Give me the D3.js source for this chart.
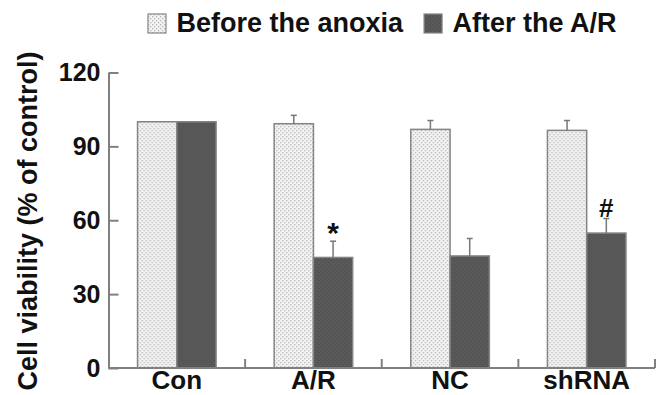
<!DOCTYPE html>
<html>
<head>
<meta charset="utf-8">
<script src="https://cdn.jsdelivr.net/npm/d3@7"></script>
<style>
    body { margin: 0; background: #fff; }
    svg { display: block; font-family: "Liberation Sans", Arial, sans-serif; font-weight: bold; }
</style>
</head>
<body>
<div id="container"></div>
<script>
    // Data
    let groups = ["Con", "A/R", "NC", "shRNA"];
    let seriesNames = ["Before the anoxia", "After the A/R"];
    let beforeValues = [100, 99.2, 96.9, 96.5];
    let beforeErrors = [0, 3.4, 3.6, 4.0];
    let afterValues = [100, 44.9, 45.5, 54.8];
    let afterErrors = [0, 6.6, 7.1, 5.9];
    let afterMarks = ["", "*", "", "#"];
    let yTicks = [0, 30, 60, 90, 120];

    let width = 661, height = 395;
    let margin = { top: 72.5, right: 6, bottom: 27, left: 108.5 };

    let svg = d3.select("#container")
        .append("svg")
        .attr("width", width)
        .attr("height", height);

    // Fill patterns
    let defs = svg.append("defs");
    let dots = defs.append("pattern")
        .attr("id", "dots")
        .attr("width", 4).attr("height", 4)
        .attr("patternUnits", "userSpaceOnUse");
    dots.append("rect").attr("width", 4).attr("height", 4).attr("fill", "#f4f4f4");
    dots.append("rect").attr("x", 0).attr("y", 0).attr("width", 1.3).attr("height", 1.3).attr("fill", "#b4b4b4");
    dots.append("rect").attr("x", 2).attr("y", 2).attr("width", 1.3).attr("height", 1.3).attr("fill", "#b4b4b4");

    let darkDots = defs.append("pattern")
        .attr("id", "darkdots")
        .attr("width", 4).attr("height", 4)
        .attr("patternUnits", "userSpaceOnUse");
    darkDots.append("rect").attr("width", 4).attr("height", 4).attr("fill", "#5a5a5a");
    darkDots.append("rect").attr("x", 0).attr("y", 0).attr("width", 1.3).attr("height", 1.3).attr("fill", "#4c4c4c");
    darkDots.append("rect").attr("x", 2).attr("y", 2).attr("width", 1.3).attr("height", 1.3).attr("fill", "#4c4c4c");

    let fills = ["url(#dots)", "url(#darkdots)"];

    // Scales
    let x = d3.scaleBand()
        .domain(groups)
        .range([margin.left, width - margin.right])
        .padding(0);

    let x1 = d3.scaleBand()
        .domain([0, 1])
        .range([0, x.bandwidth() * 0.575]);
    let groupOffset = (x.bandwidth() - x.bandwidth() * 0.575) / 2;

    let y = d3.scaleLinear()
        .domain([0, 120])
        .range([height - margin.bottom, margin.top]);

    let rows = groups.map((g, i) => ({
        group: g,
        bars: [
            { s: 0, value: beforeValues[i], err: beforeErrors[i], mark: "" },
            { s: 1, value: afterValues[i], err: afterErrors[i], mark: afterMarks[i] }
        ]
    }));

    // Bars
    let gGroups = svg.selectAll("g.group")
        .data(rows)
        .enter()
        .append("g")
        .attr("class", "group")
        .attr("transform", (d) => `translate(${x(d.group) + groupOffset},0)`);

    let bar = gGroups.selectAll("g.bar")
        .data((d) => d.bars)
        .enter()
        .append("g");

    bar.append("rect")
        .attr("x", (d) => x1(d.s))
        .attr("y", (d) => y(d.value))
        .attr("width", x1.bandwidth())
        .attr("height", (d) => y(0) - y(d.value))
        .attr("fill", (d) => fills[d.s])
        .attr("stroke", "#858585")
        .attr("stroke-width", 1.5);

    // Error bars (upper whisker only)
    let errBars = bar.filter((d) => d.err > 0);
    errBars.append("line")
        .attr("x1", (d) => x1(d.s) + x1.bandwidth() / 2)
        .attr("x2", (d) => x1(d.s) + x1.bandwidth() / 2)
        .attr("y1", (d) => y(d.value))
        .attr("y2", (d) => y(d.value + d.err))
        .attr("stroke", "#777")
        .attr("stroke-width", 1.5);
    errBars.append("line")
        .attr("x1", (d) => x1(d.s) + x1.bandwidth() / 2 - 3)
        .attr("x2", (d) => x1(d.s) + x1.bandwidth() / 2 + 3)
        .attr("y1", (d) => y(d.value + d.err))
        .attr("y2", (d) => y(d.value + d.err))
        .attr("stroke", "#777")
        .attr("stroke-width", 1.5);

    // Significance marks ("*" glyph sits high, so it needs a lower baseline)
    bar.filter((d) => d.mark !== "")
        .append("text")
        .attr("x", (d) => x1(d.s) + x1.bandwidth() / 2)
        .attr("y", (d) => y(d.value + d.err) + (d.mark === "*" ? 2 : -2))
        .attr("text-anchor", "middle")
        .attr("font-size", (d) => d.mark === "*" ? 30 : 26)
        .attr("fill", "#111")
        .text((d) => d.mark);

    // Y axis
    let yAxis = svg.append("g")
        .attr("transform", `translate(${margin.left},0)`)
        .call(d3.axisLeft(y).tickValues(yTicks).tickSize(-10).tickSizeOuter(0).tickPadding(8));
    yAxis.select(".domain").attr("stroke", "#808080").attr("stroke-width", 2);
    yAxis.selectAll(".tick line").attr("stroke", "#808080").attr("stroke-width", 2);
    yAxis.selectAll(".tick text")
        .attr("font-size", 25)
        .attr("font-weight", "bold")
        .attr("font-family", "'Liberation Sans', Arial, sans-serif")
        .attr("fill", "#111");

    // X axis: baseline with upward ticks at group boundaries, labels centred
    let xAxis = svg.append("g");
    xAxis.append("line")
        .attr("x1", margin.left)
        .attr("x2", width - margin.right)
        .attr("y1", y(0))
        .attr("y2", y(0))
        .attr("stroke", "#808080")
        .attr("stroke-width", 2);
    xAxis.selectAll("line.tick")
        .data(groups)
        .enter()
        .append("line")
        .attr("class", "tick")
        .attr("x1", (d) => x(d) + x.bandwidth())
        .attr("x2", (d) => x(d) + x.bandwidth())
        .attr("y1", y(0))
        .attr("y2", y(0) - 9)
        .attr("stroke", "#808080")
        .attr("stroke-width", 2);
    xAxis.selectAll("text")
        .data(groups)
        .enter()
        .append("text")
        .attr("x", (d) => x(d) + x.bandwidth() / 2)
        .attr("y", 389)
        .attr("text-anchor", "middle")
        .attr("font-size", 26)
        .attr("fill", "#111")
        .text((d) => d);

    // Y axis title
    svg.append("text")
        .attr("transform", "rotate(-90)")
        .attr("x", -221)
        .attr("y", 37)
        .attr("text-anchor", "middle")
        .attr("font-size", 27)
        .attr("fill", "#111")
        .text("Cell viability (% of control)");

    // Legend
    let legend = svg.append("g");
    let lx = 148;
    seriesNames.forEach((name, i) => {
        legend.append("rect")
            .attr("x", lx)
            .attr("y", 14)
            .attr("width", 18)
            .attr("height", 19)
            .attr("fill", fills[i])
            .attr("stroke", "#858585")
            .attr("stroke-width", 1.2);
        let t = legend.append("text")
            .attr("x", lx + 28.5)
            .attr("y", 32.3)
            .attr("font-size", 27)
            .attr("fill", "#111")
            .text(name);
        lx = lx + 28.5 + t.node().getComputedTextLength() + 21;
    });
</script>
</body>
</html>
